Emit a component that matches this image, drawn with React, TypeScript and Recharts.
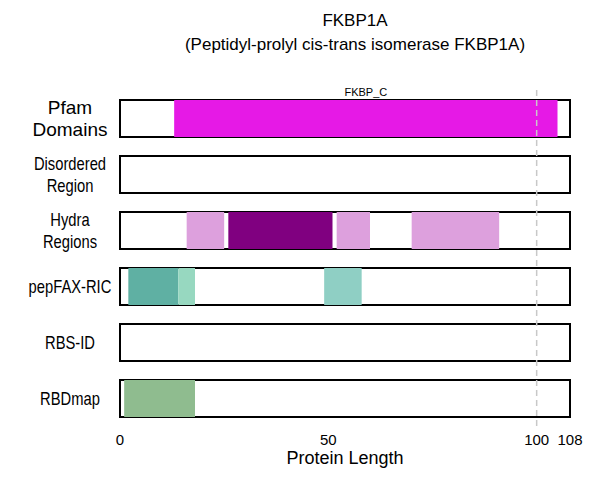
import React from "react";
import { BarChart, Bar, XAxis, YAxis, Cell, ReferenceLine, LabelList } from "recharts";

const ROWS = ["Pfam\nDomains", "Disordered\nRegion", "Hydra\nRegions", "pepFAX-RIC", "RBS-ID", "RBDmap"];
const LENGTH = 108;
const X_TICKS = [0, 50, 100, 108];

// segments per row: [start, end, color, label]
const PFAM: [number, number, string, string][] = [[13, 105, "#e619e6", "FKBP_C"]];
const DISORDER: [number, number, string, string][] = [];
const HYDRA: [number, number, string, string][] = [
  [16, 25, "#dda0dd", ""],
  [26, 51, "#800080", ""],
  [52, 60, "#dda0dd", ""],
  [70, 91, "#dda0dd", ""],
];
const PEPFAX: [number, number, string, string][] = [
  [2, 14, "#5fb0a3", ""],
  [14, 18, "#97d8c0", ""],
  [49, 58, "#8fcfc4", ""],
];
const RBSID: [number, number, string, string][] = [];
const RBDMAP: [number, number, string, string][] = [[1, 18, "#8fbc8f", ""]];

const SEGMENTS = [PFAM, DISORDER, HYDRA, PEPFAX, RBSID, RBDMAP];
const MAX_SEG = 4;

const data = ROWS.map((row, r) => {
  const d: any = { row };
  let pos = 0;
  for (let i = 0; i < MAX_SEG; i++) {
    const s = SEGMENTS[r][i];
    if (s) {
      d["g" + i] = s[0] - pos;
      d["v" + i] = s[1] - s[0];
      d["c" + i] = s[2];
      d["l" + i] = s[3];
      pos = s[1];
    } else {
      d["g" + i] = 0;
      d["v" + i] = 0;
      d["c" + i] = "none";
      d["l" + i] = "";
    }
  }
  d.tail = LENGTH - pos;
  return d;
});

const font = "Liberation Sans, Arial, sans-serif";

const RowTick = (props: any) => {
  const { x, y, payload } = props;
  const lines = String(payload.value).split("\n");
  const big = payload.value.startsWith("Pfam");
  const fs = big ? 19 : 18;
  const lh = 22;
  const cx = x - 42;
  const y0 = y - ((lines.length - 1) * lh) / 2;
  return (
    <text x={cx} y={y0} textAnchor="middle" dominantBaseline="central" fontSize={fs} fontFamily={font}
      transform={big ? undefined : `translate(${cx},0) scale(0.82,1) translate(${-cx},0)`}>
      {lines.map((l, i) => (
        <tspan key={i} x={cx} dy={i === 0 ? 0 : lh}>{l}</tspan>
      ))}
    </text>
  );
};

export default function App() {
  const bars: React.ReactNode[] = [];
  for (let i = 0; i < MAX_SEG; i++) {
    bars.push(<Bar key={"g" + i} dataKey={"g" + i} stackId="a" fill="none" isAnimationActive={false} />);
    bars.push(
      <Bar key={"v" + i} dataKey={"v" + i} stackId="a" isAnimationActive={false}>
        {data.map((d, k) => (
          <Cell key={k} fill={d["c" + i]} />
        ))}
        <LabelList
          dataKey={"l" + i}
          position="top"
          offset={4}
          style={{ fontSize: 11, fontFamily: font, fill: "#000" }}
        />
      </Bar>
    );
  }
  return (
    <div style={{ position: "absolute", left: 0, top: 0, width: 600, height: 480, background: "#fff" }}>
      <svg width={600} height={480} style={{ position: "absolute", left: 0, top: 0 }}>
        <text x={355} y={26} textAnchor="middle" fontSize={17} fontFamily={font} fill="#000">FKBP1A</text>
        <text x={355} y={50} textAnchor="middle" fontSize={17} fontFamily={font} fill="#000">(Peptidyl-prolyl cis-trans isomerase FKBP1A)</text>
      </svg>
      <div style={{ position: "absolute", left: 0, top: 0 }}>
        <BarChart
          width={600}
          height={480}
          data={data}
          layout="vertical"
          barSize={37}
          margin={{ top: 90, right: 30, left: 10, bottom: 14 }}
        >
          <XAxis
            type="number"
            domain={[0, LENGTH]}
            ticks={X_TICKS}
            axisLine={false}
            tickLine={false}
            tick={{ fill: "#000", fontSize: 15, fontFamily: font }}
            interval={0}
            height={40}
            label={{ value: "Protein Length", position: "insideBottom", offset: 2, fontSize: 18, fill: "#000", fontFamily: font }}
          />
          <YAxis type="category" dataKey="row" width={110} axisLine={false} tickLine={false} tick={<RowTick />} />
          {bars}
          <Bar
            dataKey="tail"
            stackId="a"
            fill="none"
            isAnimationActive={false}
            background={{ fill: "none", stroke: "#000", strokeWidth: 2 }}
          />
          <ReferenceLine x={100} stroke="#c8c8c8" strokeWidth={1.5} strokeDasharray="6 4" ifOverflow="extendDomain" />
        </BarChart>
      </div>
    </div>
  );
}
